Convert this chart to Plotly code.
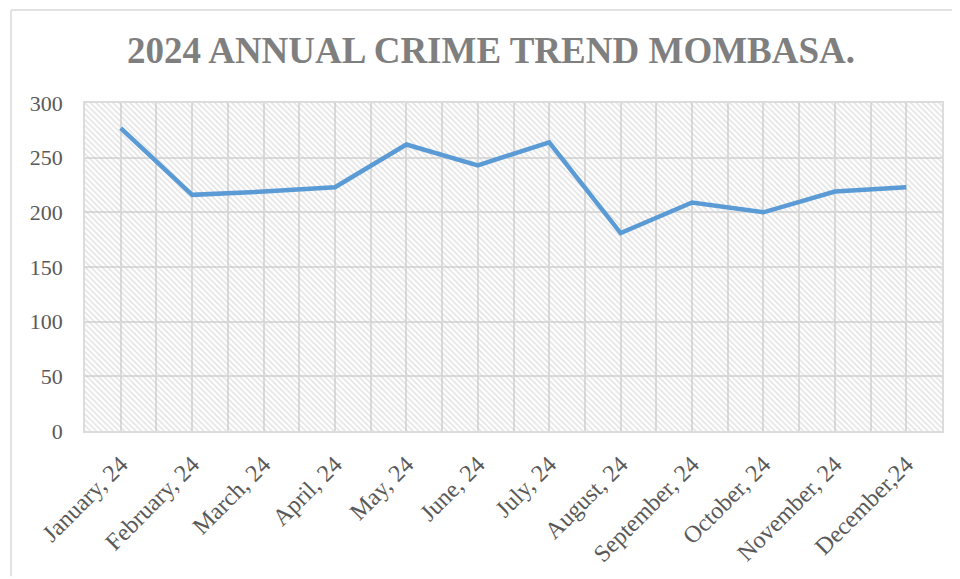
import plotly.graph_objects as go

months = ["January, 24", "February, 24", "March, 24", "April, 24", "May, 24", "June, 24",
          "July, 24", "August, 24", "September, 24", "October, 24", "November, 24", "December,24"]
crimes = [277, 216, 219, 223, 262, 243, 264, 181, 209, 200, 219, 223]
y_ticks = [0, 50, 100, 150, 200, 250, 300]

title_text = "2024 ANNUAL CRIME TREND MOMBASA."

# page is offset by the 8px body margin
OFF = 8
W, H = 952, 571
L, R, T, B = 85 - OFF, 18, 103 - OFF, 144
x_range = [-0.5, len(months) - 0.5]
y_range = [y_ticks[0], y_ticks[-1]]
xs = list(range(len(months)))

fig = go.Figure()

# hatched plot-area background
fig.add_trace(go.Scatter(
    x=[x_range[0], x_range[1], x_range[1], x_range[0], x_range[0]],
    y=[y_range[0], y_range[0], y_range[1], y_range[1], y_range[0]],
    mode="none", fill="toself", fillcolor="rgba(0,0,0,0)",
    fillpattern=dict(shape="\\", fgcolor="#c8c8c8", bgcolor="rgba(0,0,0,0)",
                     size=4, solidity=0.4),
    hoverinfo="skip", showlegend=False,
))

fig.add_trace(go.Scatter(
    x=xs, y=crimes, mode="lines",
    line=dict(color="#5b9bd5", width=4.5),
    showlegend=False,
))

grid_c = "#dcdcdc"
font_family = "Liberation Serif, Times New Roman, serif"
pw = W - L - R
ph = H - T - B


def px_x(page_x):
    return (page_x - OFF - L) / pw


def px_y(page_y):
    return (H - B - (page_y - OFF)) / ph


border = dict(color="#d9d9d9", width=1.5)

fig.update_layout(
    width=W, height=H,
    margin=dict(l=L, r=R, t=T, b=B),
    paper_bgcolor="white", plot_bgcolor="white",
    title=dict(text="<b>" + title_text + "</b>", x=(491 - OFF) / W, xanchor="center",
               y=1 - (50 - OFF) / H, yanchor="middle",
               font=dict(family=font_family, size=37, color="#7f7f7f")),
    font=dict(family=font_family, color="#595959"),
    xaxis=dict(
        range=x_range, tickmode="array", tickvals=xs, ticktext=months,
        tickangle=-45, tickfont=dict(size=24, color="#595959"),
        showgrid=True, gridcolor=grid_c, gridwidth=1.5,
        minor=dict(tickmode="array", tickvals=[v + 0.5 for v in [-1] + xs],
                   showgrid=True, gridcolor=grid_c, gridwidth=1.5),
        showline=True, linecolor=grid_c, linewidth=1.5, mirror=True,
        zeroline=False, ticks="outside", ticklen=8, tickcolor="rgba(0,0,0,0)",
        fixedrange=True,
    ),
    yaxis=dict(
        range=y_range, tickmode="array", tickvals=y_ticks,
        tickfont=dict(size=22, color="#595959"),
        showgrid=True, gridcolor=grid_c, gridwidth=1.5,
        showline=True, linecolor=grid_c, linewidth=1.5, mirror=True,
        zeroline=False, ticks="outside", ticklen=16, tickcolor="rgba(0,0,0,0)",
    ),
    shapes=[
        dict(type="line", xref="paper", yref="paper",
             x0=px_x(11), x1=px_x(962), y0=px_y(8.8), y1=px_y(8.8), line=border),
        dict(type="line", xref="paper", yref="paper",
             x0=px_x(11), x1=px_x(11), y0=px_y(8.8), y1=px_y(582), line=border),
    ],
)

fig.write_html("out.html")
